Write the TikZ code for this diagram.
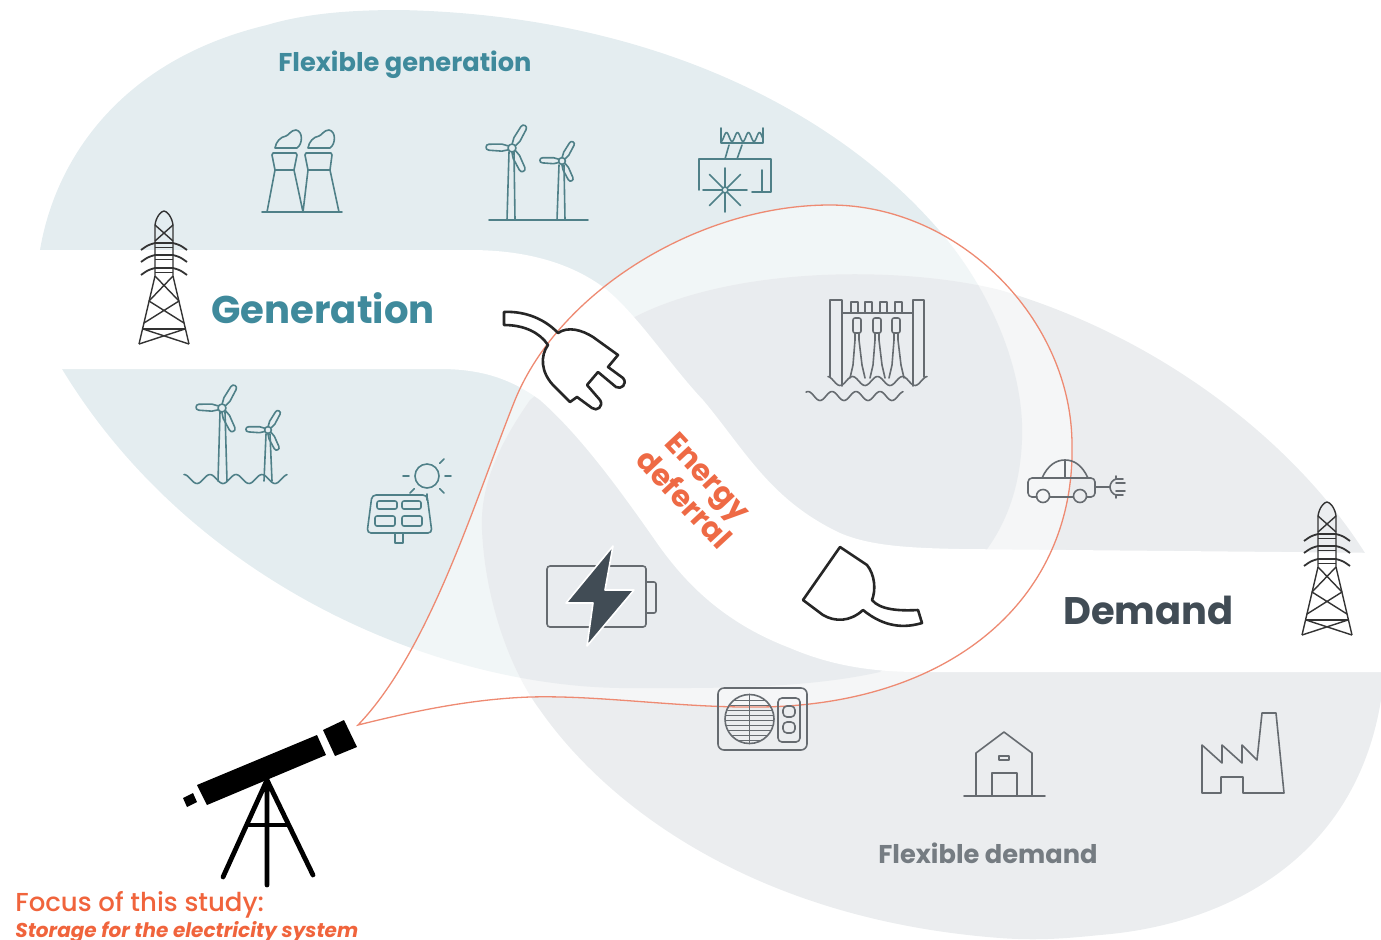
\documentclass[tikz,border=0pt]{standalone}
\usepackage{fontspec}
\setmainfont{Poppins}
\newfontfamily\focusfont{Poppins Medium}
\usetikzlibrary{calc}
\definecolor{genblob}{HTML}{E4EDF0}
\definecolor{demblob}{HTML}{EBEDEF}
\definecolor{bothblob}{HTML}{D3DADF}
\definecolor{lensline}{HTML}{EE8A72}
\definecolor{genteal}{HTML}{3F8A9C}
\definecolor{iconteal}{HTML}{4F8088}
\definecolor{icongrey}{HTML}{666B70}
\definecolor{demdark}{HTML}{414C55}
\definecolor{demgrey}{HTML}{757C82}
\definecolor{deforange}{HTML}{EE6A45}
\definecolor{focusorange}{HTML}{F0643C}
\tikzstyle{tealicon} = [color=iconteal, line width=0.8pt, line join=round, line cap=round]
\tikzstyle{greyicon} = [color=icongrey, line width=0.8pt, line join=round, line cap=round]
\tikzstyle{blackicon} = [color=black!85, line width=1.3pt, line join=round, line cap=round]
\tikzstyle{towericon} = [color=black!80, line width=0.7pt, line join=round]
\tikzstyle{label} = [inner sep=0pt, anchor=west, font=\bfseries]
\newcommand{\wavy}[5]{plot[domain=#1:#2,samples=70] (\x,{#5+4.5*cos((\x-#3)/#4*360)})}
\def\genpath{(40,250) .. controls (55,160) and (120,60) .. (267,25) .. controls (310,12) and (360,10) .. (400,10)
  .. controls (650,15) and (830,110) .. (930,220) .. controls (990,285) and (1025,370) .. (1022,440)
  .. controls (1020,490) and (1005,525) .. (985,552) -- (880,672) .. controls (800,690) and (700,688) .. (620,688)
  .. controls (430,685) and (190,580) .. (62,369) -- cycle}
\def\dempath{(530,400) .. controls (495,450) and (480,490) .. (482,530) .. controls (485,600) and (510,670) .. (540,710)
  .. controls (610,810) and (760,920) .. (1000,938) .. controls (1040,941) and (1070,938) .. (1100,935)
  .. controls (1225,925) and (1355,860) .. (1381,700)
  -- (1381,553) -- (1365,553) .. controls (1300,450) and (1170,340) .. (1000,290)
  .. controls (900,265) and (720,265) .. (620,325) -- cycle}
\def\lenspath{(358,725) .. controls (430,650) and (475,500) .. (515,400) .. controls (560,290) and (700,205) .. (830,205)
  .. controls (960,205) and (1072,320) .. (1072,445) .. controls (1075,600) and (950,705) .. (760,707)
  .. controls (680,708) and (600,695) .. (530,697) .. controls (470,699) and (410,712) .. (358,725) -- cycle}
\tikzset{
  pics/tower/.style={code={
    \draw (-25,133) -- (-9,65) -- (-9,14) .. controls (-8,6) and (-3,0) .. (0,0) .. controls (3,0) and (8,6) .. (9,14) -- (9,65) -- (25,133);
    \draw (-9,14) -- (9,30) (9,14) -- (-9,30);
    \foreach \ay in {39,51,64} {
      \draw[line width=0.9pt] (-23,\ay) .. controls (-16,\ay-5) .. (-9,\ay-7) -- (9,\ay-7) .. controls (16,\ay-5) .. (23,\ay);
      \draw[line width=0.5pt] (-9,\ay-3) -- (9,\ay-3);
    }
    \draw (-9,65) -- (15,90) (9,65) -- (-15,90) (-15,90) -- (20,112) (15,90) -- (-20,112);
    \draw[line width=1.1pt] (-21,118) -- (21,118);
    \draw (-21,118) -- (25,133) (21,118) -- (-25,133);
  }},
  pics/blades/.style={code={
    \draw (0,0) circle (4);
    \foreach \ba in {60,178,-64} {
      \draw[rotate=\ba] (4,-2) -- (10,-3.5) -- (23,-3) .. controls (27,-3) and (27,3) .. (23,3) -- (10,3.5) -- (4,2);
    }
  }},
  pics/smoke/.style={code={
    \draw (0,0) -- (22,0) .. controls (28,-4) and (28,-17) .. (21,-18) .. controls (16,-18) and (14,-13) .. (11,-12) .. controls (5,-11) and (1,-6) .. (0,0) -- cycle;
  }}
}
\begin{document}
\begin{tikzpicture}[x=0.5pt,y=-0.5pt]
  \useasboundingbox (0,0) rectangle (1381,939);

  \fill[genblob] \genpath;
  \fill[demblob] \dempath;
  \begin{scope}
    \clip \genpath;
    \clip \dempath;
    \fill[bothblob] \lenspath;
  \end{scope}
  \fill[white] (-10,250) -- (470,250) .. controls (530,250) and (575,265) .. (607,290) .. controls (640,318) and (670,365) .. (703,400)
    .. controls (745,450) and (770,500) .. (840,533) .. controls (870,546) and (910,548) .. (960,549) -- (1391,553)
    -- (1391,672) -- (920,672) .. controls (870,672) and (830,665) .. (790,648) .. controls (730,625) and (690,590) .. (657,543)
    .. controls (620,490) and (580,435) .. (540,400) .. controls (510,378) and (480,369) .. (440,369) -- (-10,369) -- cycle;
  \fill[white, opacity=0.5] \lenspath;
  \draw[lensline, line width=0.65pt, line join=miter] \lenspath;

  \node[label, text=genteal, font=\fontsize{12.85}{15}\selectfont\bfseries] (flexgen) at (278,65) {Flexible generation};
  \node[label, text=genteal, font=\fontsize{19.3}{22}\selectfont\bfseries] (generation) at (211,308) {Generation};
  \node[label, text=demdark, font=\fontsize{19.2}{22}\selectfont\bfseries] (demand) at (1063,610) {Demand};
  \node[label, text=demgrey, font=\fontsize{12.85}{15}\selectfont\bfseries] (flexdem) at (878,853) {Flexible demand};
  \node[text=deforange, inner sep=0pt, rotate=-47, align=center, font=\fontsize{15}{16.5}\selectfont\bfseries] (deferral) at (696,488) {Energy\\deferral};
  \node[label, text=focusorange, font=\fontsize{13}{16}\selectfont\focusfont] (focus) at (15,905) {Focus of this study:};
  \node[label, text=focusorange, font=\fontsize{10}{13}\selectfont\bfseries\itshape] (storage) at (15,932) {Storage for the electricity system};

  \pic[towericon] (lefttower) at (164,211) {tower};
  \pic[towericon] (righttower) at (1327,502) {tower};

  \begin{scope}[tealicon]
    \draw (262,212) -- (342,212);
    \draw (267,212) -- (275,170) -- (272,155) -- (273,153) -- (296,153) -- (297,155) -- (294,170) -- (303,212) -- (308,170) -- (305,155) -- (306,153) -- (331,153) -- (332,155) -- (330,170) -- (339,212);
    \draw (275,170) -- (294,170) (308,170) -- (330,170);
    \pic at (275,148) {smoke};
    \pic at (308,148) {smoke};

    \pic at (512,148) {blades};
    \pic[scale=0.85] at (562,161) {blades};
    \draw (489,220) -- (588,220);
    \draw (509,152) -- (507,220) (514,152) -- (515,220) (559,165) -- (557,220) (564,165) -- (565,220);

    \draw (721,128) -- (721,143) -- (763,143) -- (763,128);
    \draw \wavy{721}{763}{721}{11}{137};
    \draw (729,145) -- (725,159) (742,145) -- (737,159);
    \draw (699,190) -- (699,159) -- (771,159) -- (771,192) -- (752,192) (762,170) -- (762,192);
    \draw (725,190) circle (3);
    \foreach \sa in {0,45,...,315} {
      \draw (725,190) +(\sa:3) -- +(\sa:22);
    }

    \pic at (222,408) {blades};
    \pic[scale=0.85] at (268,430) {blades};
    \draw (220,412) -- (218,481) (225,412) -- (227,481) (266,434) -- (264,481) (270,434) -- (272,481);
    \draw \wavy{184}{287}{197}{26}{479};

    \draw (427,476) circle (12);
    \foreach \ra in {90,45,0,135,180,-45} {
      \draw (427,476) +(\ra:18) -- +(\ra:24);
    }
    \draw[rounded corners=2pt] (372,495) -- (427,495) -- (432,533) -- (367,533) -- cycle;
    \draw (395,533) -- (395,543) -- (403,543) -- (403,533);
    \draw[rounded corners=1pt] (377,501) rectangle (397,509) (402,501) rectangle (421,509) (375,516) rectangle (395,526) (402,516) rectangle (422,526);
  \end{scope}

  \begin{scope}[greyicon]
    \draw[rounded corners=1.5pt] (547,566) rectangle (646,627);
    \draw[rounded corners=1pt] (646,582) -- (656,582) -- (656,613) -- (646,613);
    \fill[demdark, draw=white, line width=0.8pt] (613,546) -- (566,603) -- (593,603) -- (587,646) -- (634,590) -- (605,590) -- cycle;

    \draw (830,377) -- (830,300) -- (842,300) -- (842,386) (913,386) -- (913,300) -- (924,300) -- (924,377);
    \draw (842,313) -- (913,313);
    \foreach \bx in {851,865,880,895} {
      \draw (\bx,313) -- (\bx,302) -- (\bx+7,302) -- (\bx+7,313);
    }
    \foreach \vx in {857,877,896} {
      \draw[rounded corners=1pt] (\vx-4,318) rectangle (\vx+4,333);
      \draw (\vx-2,333) -- (\vx-2,340) -- (\vx-4,365) -- (\vx-7,378) (\vx+2,333) -- (\vx+2,340) -- (\vx+5,365) -- (\vx+8,378);
    }
    \draw \wavy{828}{927}{840}{25}{381};
    \draw \wavy{806}{903}{820}{24}{396};

    \draw (1042,478) .. controls (1048,465) and (1056,460) .. (1065,460) .. controls (1074,460) and (1082,465) .. (1088,478);
    \draw (1065,460) -- (1065,478);
    \draw[rounded corners=2pt] (1037,497) -- (1028,497) -- (1028,478) -- (1095,478) -- (1095,497) -- (1087,497);
    \draw (1050,497) -- (1073,497);
    \draw (1043,496) circle (6.5) (1080,496) circle (6.5);
    \draw (1095,487) -- (1110,487);
    \draw (1123,479) -- (1116,479) .. controls (1112,480) and (1110,484) .. (1110,487) .. controls (1110,490) and (1112,494) .. (1116,495) -- (1123,495);
    \draw (1116,479) -- (1116,476) (1116,495) -- (1116,498);
    \draw (1116,483) -- (1125,483) (1116,491) -- (1125,491);

    \draw[rounded corners=3pt] (718,688) rectangle (807,750);
    \draw (749.5,719) circle (24.5);
    \draw (749.5,694.5) -- (749.5,743.5);
    \foreach \cy/\chw in {700/15,705/19,710/22,715/24,720/24,725/23,730/21,735/17,740/11} {
      \draw[line width=0.5pt] (749.5-\chw,\cy) -- (749.5+\chw,\cy);
    }
    \draw[rounded corners=2pt] (778,698) rectangle (800,742);
    \draw[rounded corners=2pt] (783,706) rectangle (795,717) (783,722) rectangle (795,733);

    \draw (964,796) -- (1045,796);
    \draw (976,796) -- (976,753) -- (1004,732) -- (1032,753) -- (1032,796);
    \draw (992,796) -- (992,773) -- (1017,773) -- (1017,796);
    \draw (999,756) rectangle (1009,760);

    \draw (1202,745) -- (1222,763) -- (1222,745) -- (1242,763) -- (1242,745) -- (1257,760) -- (1262,713) -- (1276,713) -- (1284,793) -- (1243,793) -- (1243,777) -- (1221,777) -- (1221,793) -- (1202,793) -- cycle;
  \end{scope}

  \begin{scope}[blackicon]
    \draw (504,312) .. controls (520,311) and (542,316) .. (558,333) .. controls (568,326) and (582,330) .. (593,337) -- (618,355) -- (608,367) -- (623,378)
      .. controls (628,384) and (621,390) .. (616,387) -- (598,372) -- (587,385) -- (600,400) .. controls (604,406) and (597,412) .. (592,408) -- (577,397) -- (570,402) -- (553,385)
      .. controls (541,372) and (540,356) .. (548,345) .. controls (540,333) and (525,325) .. (504,325) -- cycle;
    \draw (840,547) -- (867,565) .. controls (875,575) and (876,590) .. (872,600) .. controls (880,610) and (900,611) .. (918,610) -- (922,623)
      .. controls (905,628) and (885,628) .. (863,610) .. controls (850,622) and (835,622) .. (823,615) -- (803,600) -- cycle;
  \end{scope}

  \fill[black] (197,785) -- (317,735) -- (326,755) -- (207,805) -- cycle;
  \fill[black] (323,730) -- (344,720) -- (357,747) -- (335,756) -- cycle;
  \fill[black] (183,798) -- (193,793) -- (197,802) -- (187,807) -- cycle;
  \draw[black, line width=2.4pt, line cap=round] (267,780) -- (223,877) (267,780) -- (313,875) (267,780) -- (267,885);
  \draw[black, line width=2pt] (247,825) -- (288,825);
\end{tikzpicture}
\end{document}
